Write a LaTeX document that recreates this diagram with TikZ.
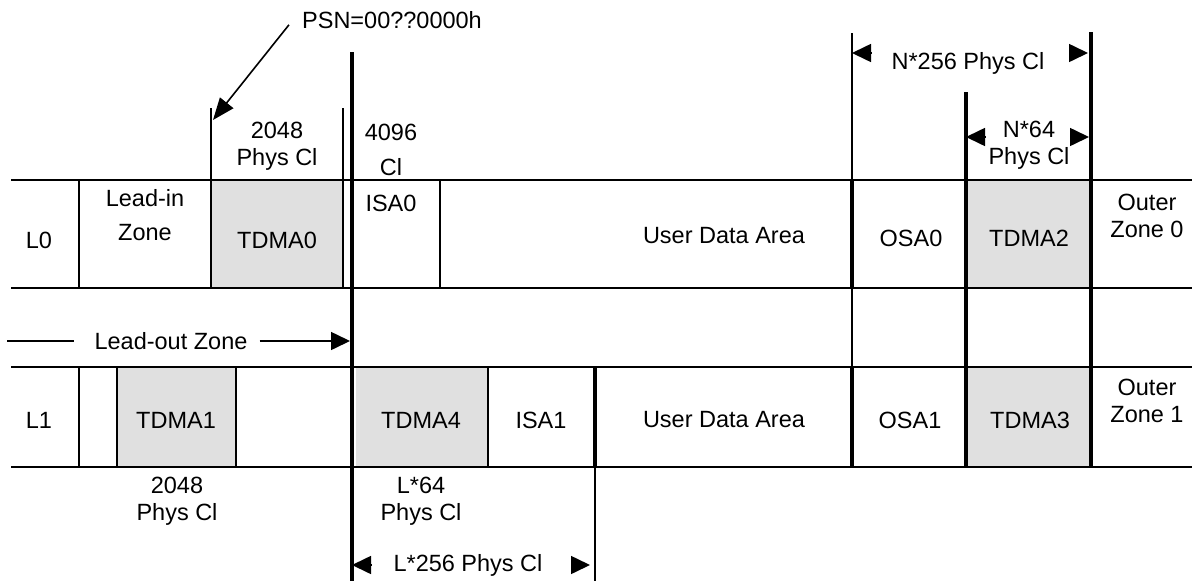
\documentclass[tikz,border=0pt]{standalone}
\usepackage{fontspec}
\setmainfont{Liberation Sans}
\usetikzlibrary{arrows.meta}

\begin{document}
\begin{tikzpicture}[x=1pt,y=-1pt,
  every node/.style={font=\fontsize{23.5}{27}\selectfont,inner sep=0pt,align=center},
  rule/.style={line width=1.6pt},
  bar/.style={line width=3.4pt},
  tdma/.style={fill=black!12},
  tip/.style={-{Triangle[length=19pt,width=18pt]},line width=1.6pt}]
\useasboundingbox (0,0) rectangle (1192,581);
% shaded TDMA blocks
\fill[tdma] (211,180) rectangle (343,288);
\fill[tdma] (966,180) rectangle (1091,288);
\fill[tdma] (117,367) rectangle (236,467);
\fill[tdma] (356,367) rectangle (488,467);
\fill[tdma] (966,367) rectangle (1091,467);
% row borders
\foreach \y in {180,288,367,467}
  \draw[rule] (11,\y) -- (1192,\y);
% L0 cells
\foreach \x in {79,440}
  \draw[rule] (\x,180) -- (\x,288);
\draw[rule] (211,108) -- (211,288);
\draw[rule] (343,108) -- (343,288);
% L1 cells
\foreach \x in {79,117,236,488}
  \draw[rule] (\x,367) -- (\x,467);
\draw[bar] (595,367) -- (595,467);
\draw[rule] (595,467) -- (595,581);
% long boundaries
\draw[bar] (352,52) -- (352,581);
\draw[rule] (852,33) -- (852,468);
\draw[bar] (852,180) -- (852,288) (852,367) -- (852,467);
\draw[bar] (966,92) -- (966,468);
\draw[bar] (1091,32) -- (1091,468);

% labels above L0
\node (psn) at (392,20) {PSN=00??0000h};
\coordinate (psnfoot) at (213,120);
\draw[tip,-{Triangle[length=22pt,width=17pt]}] ([shift={(-13,-4)}]psn.south west) -- (psnfoot);
\node (cl0) at (277,146) {2048\\Phys Cl};
\node (cl4096) at (391,150) {4096\\[8pt]Cl};
\node (n256) at (968,63) {N*256 Phys Cl};
\node (n64) at (1029,145) {N*64\\Phys Cl};
\coordinate (n256l) at (852,53);
\coordinate (n256r) at (1088,53);
\coordinate (n64l) at (966,137);
\coordinate (n64r) at (1089,137);
\draw[tip] ([xshift=19pt]n256l) -- (n256l);
\draw[tip] ([xshift=-19pt]n256r) -- (n256r);
\draw[tip] ([xshift=19pt]n64l) -- (n64l);
\draw[tip] ([xshift=-19pt]n64r) -- (n64r);

% L0 row
\node (l0) at (39,240) {L0};
\node (leadin) at (145,215) {Lead-in\\[7pt]Zone};
\node (tdma0) at (277,240) {TDMA0};
\node (isa0) at (391,203) {ISA0};
\node (uda0) at (724,236) {User Data Area};
\node (osa0) at (911,238) {OSA0};
\node (tdma2) at (1029,238) {TDMA2};
\node (outer0) at (1147,216) {Outer\\Zone 0};

% lead-out marker
\node (leadout) at (171,341) {Lead-out Zone};
\coordinate (leadstart) at (7,341);
\coordinate (leadend) at (350,341);
\draw[rule] (leadstart) -- ([xshift=-20pt]leadout.west);
\draw[tip] ([xshift=12pt]leadout.east) -- (leadend);

% L1 row
\node (l1) at (39,420) {L1};
\node (tdma1) at (176,420) {TDMA1};
\node (tdma4) at (421,420) {TDMA4};
\node (isa1) at (541,420) {ISA1};
\node (uda1) at (724,420) {User Data Area};
\node (osa1) at (910,420) {OSA1};
\node (tdma3) at (1030,420) {TDMA3};
\node (outer1) at (1147,401) {Outer\\Zone 1};

% labels below L1
\node (cl1) at (177,501) {2048\\Phys Cl};
\node (l64) at (421,501) {L*64\\Phys Cl};
\node (l256) at (468,565) {L*256 Phys Cl};
\coordinate (l256l) at (352,565);
\coordinate (l256r) at (590,565);
\draw[tip] ([xshift=19pt]l256l) -- (l256l);
\draw[tip] ([xshift=-19pt]l256r) -- (l256r);
\end{tikzpicture}
\end{document}
